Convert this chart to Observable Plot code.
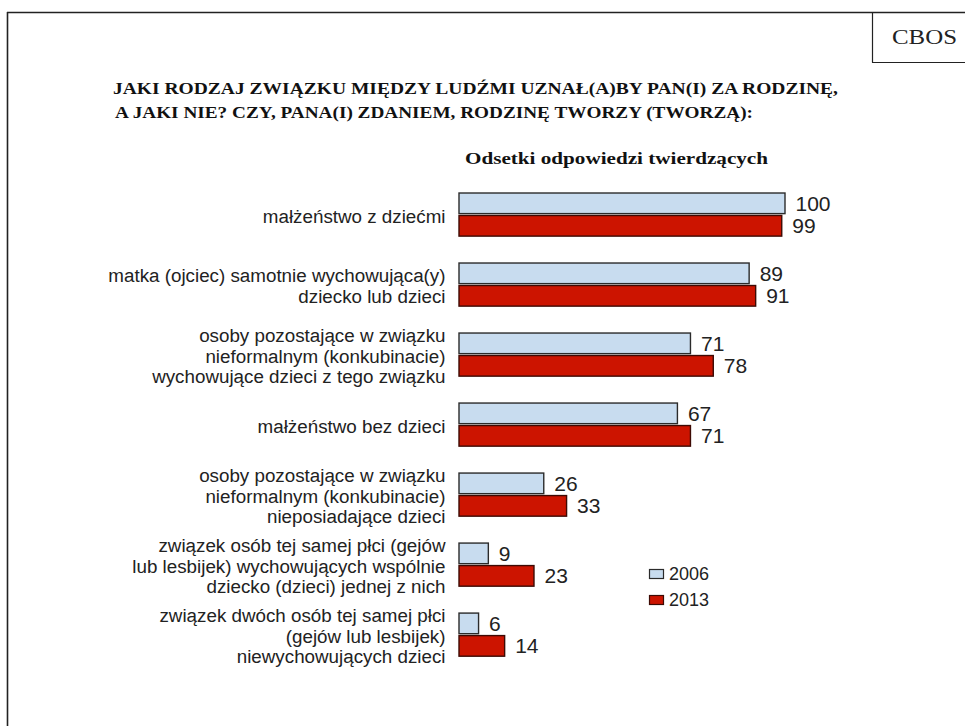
<!DOCTYPE html>
<html>
<head>
<meta charset="utf-8">
<script src="https://cdn.jsdelivr.net/npm/d3@7"></script>
<script src="https://cdn.jsdelivr.net/npm/@observablehq/plot@0.6"></script>
<style>
  body { margin: 0; background: #fff; }
  #wrap { position: relative; width: 965px; height: 726px; background: #fff; overflow: hidden; }
  #wrap > svg { position: absolute; left: 0; top: 0; }
</style>
</head>
<body>
<div id="wrap"></div>
<script>
const categories = [
  "małżeństwo z dziećmi",
  "matka (ojciec) samotnie wychowująca(y)\ndziecko lub dzieci",
  "osoby pozostające w związku\nnieformalnym (konkubinacie)\nwychowujące dzieci z tego związku",
  "małżeństwo bez dzieci",
  "osoby pozostające w związku\nnieformalnym (konkubinacie)\nnieposiadające dzieci",
  "związek osób tej samej płci (gejów\nlub lesbijek) wychowujących wspólnie\ndziecko (dzieci) jednej z nich",
  "związek dwóch osób tej samej płci\n(gejów lub lesbijek)\nniewychowujących dzieci"
];
const years = ["2006", "2013"];
const values2006 = [100, 89, 71, 67, 26, 9, 6];
const values2013 = [99, 91, 78, 71, 33, 23, 14];
const fills = ["#c8dcef", "#cc1400"];
const strokes = ["#2b2b2b", "#3d0a04"];
const titleLines = [
  "JAKI RODZAJ ZWIĄZKU MIĘDZY LUDŹMI UZNAŁ(A)BY PAN(I) ZA RODZINĘ,",
  "A JAKI NIE? CZY, PANA(I) ZDANIEM, RODZINĘ TWORZY (TWORZĄ):"
];
const subtitle = "Odsetki odpowiedzi twierdzących";
const source = "CBOS";

const rows2006 = categories.map((c, i) => ({category: c, year: years[0], value: values2006[i]}));
const rows2013 = categories.map((c, i) => ({category: c, year: years[1], value: values2013[i]}));

const half = 23;   // half of a category band + gap between the two bars
const chart = Plot.plot({
  width: 965,
  height: 726,
  marginLeft: 459,
  marginRight: 180,
  marginTop: 166.6,
  marginBottom: 43.4,
  style: {fontFamily: "'Liberation Sans', Arial, sans-serif", background: "transparent", color: "#222"},
  x: {domain: [0, 100], axis: null},
  y: {domain: categories, padding: 0.37, round: false, axis: null},
  marks: [
    Plot.barX(rows2006, {
      x: "value", y: "category", fill: fills[0], stroke: strokes[0], strokeWidth: 1.4,
      insetTop: 0.5, insetBottom: half
    }),
    Plot.barX(rows2013, {
      x: "value", y: "category", fill: fills[1], stroke: strokes[1], strokeWidth: 1.4,
      insetTop: half, insetBottom: 0.5
    }),
    Plot.text(rows2006, {
      x: "value", y: "category", text: d => String(d.value),
      textAnchor: "start", dx: 10, dy: -11, fontSize: 21, fill: "#222"
    }),
    Plot.text(rows2013, {
      x: "value", y: "category", text: d => String(d.value),
      textAnchor: "start", dx: 10, dy: 11.5, fontSize: 21, fill: "#222"
    }),
    Plot.text(categories, {
      y: d => d, text: d => d,
      frameAnchor: "left", textAnchor: "end", dx: -14, dy: 1,
      lineAnchor: "middle", lineHeight: 1.09, fontSize: 18.8, fill: "#222"
    })
  ]
});
document.getElementById("wrap").appendChild(chart);

// Decorations: frame, source box, title, subtitle, legend
const deco = d3.select("#wrap").append("svg")
  .attr("width", 965).attr("height", 726)
  .style("pointer-events", "none");

deco.append("line").attr("x1", 7).attr("x2", 965).attr("y1", 12.5).attr("y2", 12.5)
  .attr("stroke", "#222").attr("stroke-width", 1.4);
deco.append("line").attr("x1", 7.5).attr("x2", 7.5).attr("y1", 12).attr("y2", 726)
  .attr("stroke", "#222").attr("stroke-width", 1.6);
deco.append("line").attr("x1", 872.5).attr("x2", 872.5).attr("y1", 12).attr("y2", 62.5)
  .attr("stroke", "#222").attr("stroke-width", 1.2);
deco.append("line").attr("x1", 872).attr("x2", 965).attr("y1", 62.5).attr("y2", 62.5)
  .attr("stroke", "#222").attr("stroke-width", 1.2);

const serif = "'Liberation Serif', 'Times New Roman', serif";
deco.append("text").attr("x", 892).attr("y", 44)
  .attr("font-family", serif).attr("font-size", 20).attr("fill", "#222")
  .attr("textLength", 65).attr("lengthAdjust", "spacingAndGlyphs")
  .text(source);

const titleX = [113, 115], titleY = [94, 118], titleW = [725, 638];
titleLines.forEach((t, i) => {
  deco.append("text").attr("x", titleX[i]).attr("y", titleY[i])
    .attr("font-family", serif).attr("font-weight", "bold").attr("font-size", 17.5)
    .attr("fill", "#111")
    .attr("textLength", titleW[i]).attr("lengthAdjust", "spacingAndGlyphs")
    .text(t);
});

deco.append("text").attr("x", 465).attr("y", 164)
  .attr("font-family", serif).attr("font-weight", "bold").attr("font-size", 17)
  .attr("fill", "#111")
  .attr("textLength", 303).attr("lengthAdjust", "spacingAndGlyphs")
  .text(subtitle);

const legY = [569, 595];
years.forEach((y, i) => {
  deco.append("rect").attr("x", 649.5).attr("y", legY[i] + 0.5).attr("width", 14).attr("height", 9)
    .attr("fill", fills[i]).attr("stroke", strokes[i]).attr("stroke-width", 1.2);
  deco.append("text").attr("x", 669).attr("y", legY[i] + 5).attr("dy", "0.36em")
    .attr("font-family", "'Liberation Sans', Arial, sans-serif").attr("font-size", 18)
    .attr("fill", "#222").text(y);
});
</script>
</body>
</html>
